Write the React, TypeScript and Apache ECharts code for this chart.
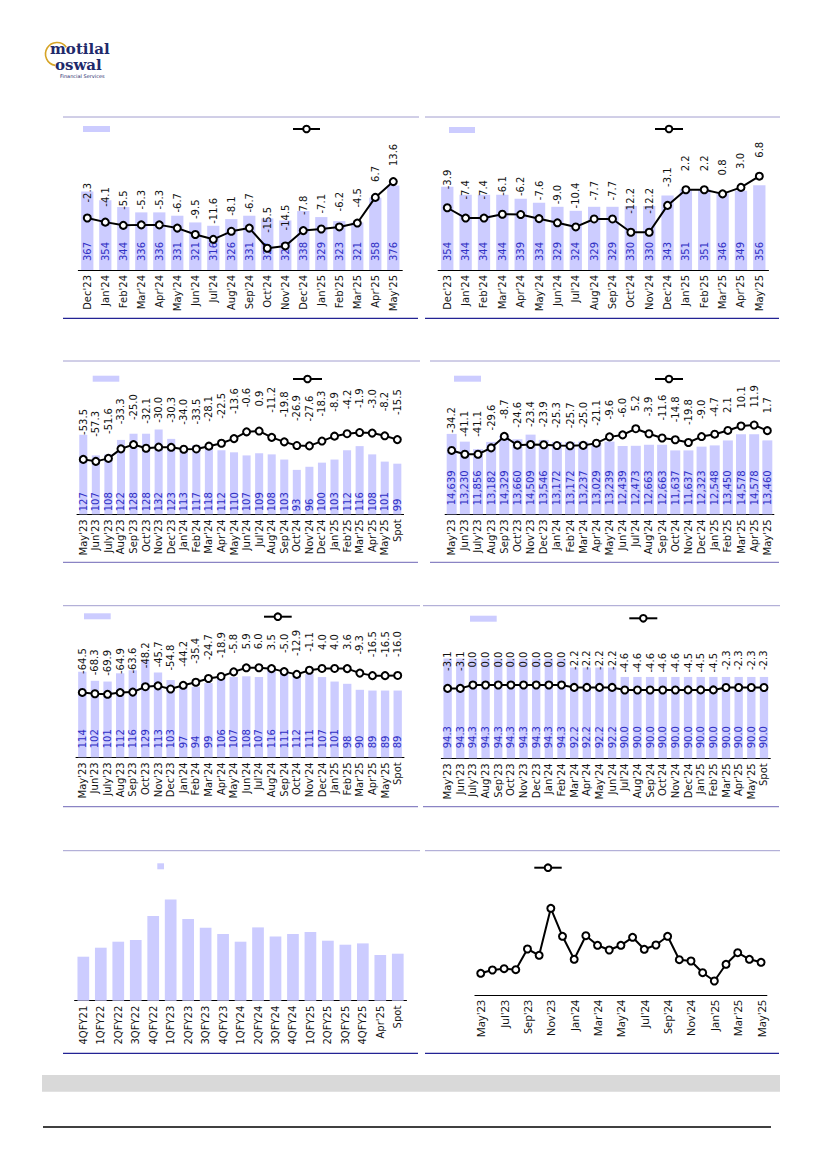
import React, { useEffect, useRef } from "react";
import * as echarts from "echarts";

// ---------- DATA ----------
const monthsDec23 = ["Dec'23", "Jan'24", "Feb'24", "Mar'24", "Apr'24", "May'24", "Jun'24", "Jul'24", "Aug'24", "Sep'24", "Oct'24", "Nov'24", "Dec'24", "Jan'25", "Feb'25", "Mar'25", "Apr'25", "May'25"];
const c1Bar = [367, 354, 344, 336, 336, 331, 321, 316, 326, 331, 327, 324, 338, 329, 323, 321, 358, 376];
const c1Line = [-2.3, -4.1, -5.5, -5.3, -5.3, -6.7, -9.5, -11.6, -8.1, -6.7, -15.5, -14.5, -7.8, -7.1, -6.2, -4.5, 6.7, 13.6];
const c2Bar = [354, 344, 344, 344, 339, 334, 329, 324, 329, 329, 330, 330, 343, 351, 351, 346, 349, 356];
const c2Line = [-3.9, -7.4, -7.4, -6.1, -6.2, -7.6, -9.0, -10.4, -7.7, -7.7, -12.2, -12.2, -3.1, 2.2, 2.2, 0.8, 3.0, 6.8];

const monthsSpot = ["May'23", "Jun'23", "July'23", "Aug'23", "Sep'23", "Oct'23", "Nov'23", "Dec'23", "Jan'24", "Feb'24", "Mar'24", "Apr'24", "May'24", "Jun'24", "Jul'24", "Aug'24", "Sep'24", "Oct'24", "Nov'24", "Dec'24", "Jan'25", "Feb'25", "Mar'25", "Apr'25", "May'25", "Spot"];
const c3Bar = [127, 107, 108, 122, 128, 128, 132, 123, 113, 117, 118, 112, 110, 107, 109, 108, 103, 93, 96, 100, 103, 112, 116, 108, 101, 99];
const c3Line = [-53.5, -57.3, -51.6, -33.3, -25.0, -32.1, -30.0, -30.3, -34.0, -33.5, -28.1, -22.5, -13.6, -0.6, 0.9, -11.2, -19.8, -26.9, -27.6, -18.3, -8.9, -4.2, -1.9, -3.0, -8.2, -15.5];

const monthsMay25 = ["May'23", "Jun'23", "July'23", "Aug'23", "Sep'23", "Oct'23", "Nov'23", "Dec'23", "Jan'24", "Feb'24", "Mar'24", "Apr'24", "May'24", "Jun'24", "Jul'24", "Aug'24", "Sep'24", "Oct'24", "Nov'24", "Dec'24", "Jan'25", "Feb'25", "Mar'25", "Apr'25", "May'25"];
const c4Bar = [14639, 13230, 11856, 13182, 14329, 13660, 14509, 13546, 13172, 13172, 13237, 13029, 13239, 12439, 12473, 12663, 12663, 11637, 11637, 12323, 12548, 13450, 14578, 14578, 13460];
const c4Line = [-34.2, -41.1, -41.1, -29.6, -8.7, -24.6, -23.4, -23.9, -25.3, -25.7, -25.0, -21.1, -9.6, -6.0, 5.2, -3.9, -11.6, -14.8, -19.8, -9.0, -4.7, 2.1, 10.1, 11.9, 1.7];

const c5Bar = [114, 102, 101, 112, 116, 129, 113, 103, 97, 94, 99, 106, 107, 108, 107, 116, 111, 112, 111, 107, 101, 98, 90, 89, 89, 89];
const c5Line = [-64.5, -68.3, -69.9, -64.9, -63.6, -48.2, -45.7, -54.8, -44.2, -35.4, -24.7, -18.9, -5.8, 5.9, 6.0, 3.5, -5.0, -12.9, -1.1, 4.0, 4.0, 3.6, -9.3, -16.5, -16.5, -16.0];

const c6Bar = [94.3, 94.3, 94.3, 94.3, 94.3, 94.3, 94.3, 94.3, 94.3, 94.3, 92.2, 92.2, 92.2, 92.2, 90.0, 90.0, 90.0, 90.0, 90.0, 90.0, 90.0, 90.0, 90.0, 90.0, 90.0, 90.0];
const c6Line = [-3.1, -3.1, 0.0, 0.0, 0.0, 0.0, 0.0, 0.0, 0.0, 0.0, -2.2, -2.2, -2.2, -2.2, -4.6, -4.6, -4.6, -4.6, -4.6, -4.5, -4.5, -4.5, -2.3, -2.3, -2.3, -2.3];

const quarters = ["4QFY21", "1QFY22", "2QFY22", "3QFY22", "4QFY22", "1QFY23", "2QFY23", "3QFY23", "4QFY23", "1QFY24", "2QFY24", "3QFY24", "4QFY24", "1QFY25", "2QFY25", "3QFY25", "4QFY25", "Apr'25", "Spot"];
const c7Bar = [44.0, 53.0, 59.0, 60.7, 84.7, 101.3, 81.7, 73.0, 66.7, 59.0, 73.3, 64.3, 66.7, 68.7, 60.0, 56.0, 57.3, 45.7, 47.0];

const months8 = ["May'23", "Jun'23", "Jul'23", "Aug'23", "Sep'23", "Oct'23", "Nov'23", "Dec'23", "Jan'24", "Feb'24", "Mar'24", "Apr'24", "May'24", "Jun'24", "Jul'24", "Aug'24", "Sep'24", "Oct'24", "Nov'24", "Dec'24", "Jan'25", "Feb'25", "Mar'25", "Apr'25", "May'25"];
const c8Line = [21.7, 25.0, 26.3, 25.3, 46.0, 39.7, 86.7, 58.7, 35.7, 59.3, 49.7, 45.0, 49.7, 57.7, 45.7, 50.0, 58.7, 35.3, 34.0, 22.3, 14.0, 30.7, 42.3, 35.7, 32.7];

// ---------- STYLE ----------
const FONT = "DejaVu Sans";
const BAR_COLOR = "#ccccff";
const BAR_LABEL = "#2f2fc4";
const TOP_LINE = "#a29ecf";
const BOT_DARK = "#232394";
const BOT_LIGHT = "#8a84c4";

type Panel = {
  cats: string[];
  bar?: number[];
  line?: number[];
  grid: { left: number; top: number; width: number; height: number };
  y1?: [number, number];
  y2?: [number, number];
  gap?: string;
  barFmt?: (v: number) => string;
  barDist?: number;
  lineDist?: number;
  barLabels?: boolean;
  lineLabels?: boolean;
  labelInterval?: number;
  axisFont?: string;
  axisFontSize?: number;
};

const fmt0 = (v: number) => String(v);
const fmtComma = (v: number) => v.toLocaleString("en-US");
const fmt1 = (v: number) => v.toFixed(1);

const panels: Panel[] = [
  { cats: monthsDec23, bar: c1Bar, line: c1Line, grid: { left: 78.3, top: 136, width: 324, height: 134 }, y1: [250, 450], y2: [-25, 33.5], gap: "32%", barFmt: fmt0, barDist: 9, lineDist: 11 },
  { cats: monthsDec23, bar: c2Bar, line: c2Line, grid: { left: 438.1, top: 134, width: 330.4, height: 136 }, y1: [250, 420], y2: [-25, 21.1], gap: "33%", barFmt: fmt0, barDist: 9, lineDist: 14 },
  { cats: monthsSpot, bar: c3Bar, line: c3Line, grid: { left: 77, top: 380, width: 326.6, height: 134.3 }, y1: [50, 180], y2: [-159, 99], gap: "36%", barFmt: fmt0, barDist: 3, lineDist: 20 },
  { cats: monthsMay25, bar: c4Bar, line: c4Line, grid: { left: 445.1, top: 377, width: 328.8, height: 137.3 }, y1: [0, 25000], y2: [-150, 99], gap: "24%", barFmt: fmtComma, barDist: 9, lineDist: 13 },
  { cats: monthsSpot, bar: c5Bar, line: c5Line, grid: { left: 76, top: 622.3, width: 328, height: 135 }, y1: [0, 180], y2: [-250, 136], gap: "34%", barFmt: fmt0, barDist: 9, lineDist: 14 },
  { cats: monthsSpot, bar: c6Bar, line: c6Line, grid: { left: 441.3, top: 621.3, width: 329, height: 137 }, y1: [71, 103], y2: [-67.4, 58.6], gap: "34%", barFmt: fmt1, barDist: 10, lineDist: 13 },
  { cats: quarters, bar: c7Bar, grid: { left: 74.6, top: 850.7, width: 331.9, height: 150 }, y1: [0, 150], gap: "33%", barLabels: false },
  { cats: months8, line: c8Line, grid: { left: 474.9, top: 845, width: 292, height: 150 }, y2: [0, 150], lineLabels: false, labelInterval: 1, axisFont: "Noto Sans", axisFontSize: 11 },
];

function buildOption() {
  const grid: any[] = [];
  const xAxis: any[] = [];
  const yAxis: any[] = [];
  const series: any[] = [];

  panels.forEach((p, i) => {
    grid.push({ ...p.grid, containLabel: false });
    xAxis.push({
      type: "category",
      gridIndex: i,
      data: p.cats,
      boundaryGap: true,
      axisLine: { show: true, onZero: false, lineStyle: { color: "#000", width: 1 } },
      axisTick: { show: false },
      splitLine: { show: false },
      axisLabel: {
        rotate: 90,
        interval: p.labelInterval ?? 0,
        margin: 5,
        color: "#111",
        fontSize: p.axisFontSize ?? 10,
        fontFamily: p.axisFont ?? FONT,
      },
    });
    if (p.bar) {
      const yi = yAxis.length;
      yAxis.push({ type: "value", gridIndex: i, min: p.y1![0], max: p.y1![1], show: false, axisLine: { show: false }, splitLine: { show: false } });
      series.push({
        type: "bar",
        xAxisIndex: i,
        yAxisIndex: yi,
        data: p.bar,
        barCategoryGap: p.gap,
        itemStyle: { color: BAR_COLOR },
        z: 2,
        label: {
          show: p.barLabels !== false,
          position: "insideBottom",
          distance: p.barDist ?? 9,
          rotate: 90,
          align: "left",
          verticalAlign: "middle",
          color: BAR_LABEL,
          fontSize: 10,
          fontFamily: FONT,
          formatter: (o: any) => (p.barFmt ? p.barFmt(o.value) : String(o.value)),
        },
      });
    }
    if (p.line) {
      const yi = yAxis.length;
      yAxis.push({ type: "value", gridIndex: i, min: p.y2![0], max: p.y2![1], show: false, axisLine: { show: false }, splitLine: { show: false } });
      series.push({
        type: "line",
        xAxisIndex: i,
        yAxisIndex: yi,
        data: p.line,
        symbol: "circle",
        symbolSize: 7,
        showAllSymbol: true,
        itemStyle: { color: "#fff", borderColor: "#000", borderWidth: 2 },
        lineStyle: { color: "#000", width: 2 },
        z: 5,
        label: {
          show: p.lineLabels !== false,
          position: "top",
          distance: p.lineDist ?? 12,
          rotate: 90,
          align: "left",
          verticalAlign: "middle",
          color: "#111",
          fontSize: 10,
          fontFamily: FONT,
          formatter: (o: any) => fmt1(o.value),
        },
      });
    }
  });

  const hline = (x1: number, x2: number, y: number, stroke: string, w = 1) => ({
    type: "line",
    shape: { x1, y1: y, x2, y2: y },
    style: { stroke, lineWidth: w },
    silent: true,
  });
  const barLegend = (x: number, y: number, w: number, h: number) => ({
    type: "rect",
    shape: { x, y, width: w, height: h },
    style: { fill: BAR_COLOR },
    silent: true,
  });
  const lineLegend = (x1: number, x2: number, y: number) => [
    { type: "line", shape: { x1, y1: y, x2, y2: y }, style: { stroke: "#000", lineWidth: 2 }, silent: true },
    { type: "circle", shape: { cx: (x1 + x2) / 2, cy: y, r: 3.3 }, style: { fill: "#fff", stroke: "#000", lineWidth: 2 }, silent: true, z: 10 },
  ];

  const elements: any[] = [
    // panel top rules
    hline(63, 419, 117, TOP_LINE),
    hline(425, 780, 117, TOP_LINE),
    hline(63, 420, 361, TOP_LINE),
    hline(430, 780, 361, TOP_LINE),
    hline(63, 420, 605.7, TOP_LINE),
    hline(423, 780, 605.7, TOP_LINE),
    hline(63, 420, 850.7, TOP_LINE),
    hline(425, 780, 850.7, TOP_LINE),
    // panel bottom rules
    hline(63, 418, 318.3, BOT_DARK, 1.3),
    hline(425, 779, 318.3, BOT_DARK, 1.3),
    hline(63, 418, 562.3, BOT_LIGHT, 1.3),
    hline(430, 779, 562.3, BOT_LIGHT, 1.3),
    hline(63, 418, 806.7, BOT_LIGHT, 1.3),
    hline(423, 779, 806.7, BOT_LIGHT, 1.3),
    hline(63, 418, 1053.3, BOT_DARK, 1.3),
    hline(425, 779, 1053.3, BOT_DARK, 1.3),
    // legends
    barLegend(83, 126, 27, 6),
    ...lineLegend(293, 320, 129),
    barLegend(449, 127, 26, 6),
    ...lineLegend(655, 683, 129),
    barLegend(92.7, 375.7, 26.6, 6),
    ...lineLegend(293, 322, 379),
    barLegend(454, 375.7, 27, 6),
    ...lineLegend(655, 683, 379),
    barLegend(84, 613.3, 26.7, 6),
    ...lineLegend(264, 291.7, 616.7),
    barLegend(470, 615.7, 26.7, 6),
    ...lineLegend(629.3, 657.3, 618.3),
    barLegend(157.3, 863.3, 6.7, 6),
    ...lineLegend(534.3, 561.7, 867.7),
    // footer band and rule
    { type: "rect", shape: { x: 42, y: 1075, width: 738, height: 16.7 }, style: { fill: "#d9d9d9" }, silent: true },
    hline(43, 771, 1127, "#000", 1.5),
    // logo
    {
      type: "arc",
      shape: { cx: 57, cy: 54, r: 11.5, startAngle: Math.PI * 0.55, endAngle: Math.PI * 1.8, clockwise: true },
      style: { stroke: "#d6a426", lineWidth: 1.6, fill: "none" },
      silent: true,
    },
    {
      type: "text",
      x: 50,
      y: 41,
      style: { text: "motilal", fill: "#1f2a6b", font: 'bold 15px "DejaVu Serif"', textVerticalAlign: "top" },
      silent: true,
    },
    {
      type: "text",
      x: 55,
      y: 57,
      style: { text: "oswal", fill: "#1f2a6b", font: 'bold 15px "DejaVu Serif"', textVerticalAlign: "top" },
      silent: true,
    },
    {
      type: "text",
      x: 60,
      y: 73,
      style: { text: "Financial Services", fill: "#1f2a6b", font: '5px "DejaVu Sans"', textVerticalAlign: "top" },
      silent: true,
    },
  ];

  return {
    animation: false,
    backgroundColor: "#fff",
    grid,
    xAxis,
    yAxis,
    series,
    graphic: { elements },
  };
}

export default function App() {
  const ref = useRef<HTMLDivElement>(null);
  useEffect(() => {
    if (!ref.current) return;
    const chart = echarts.init(ref.current, null, { renderer: "svg", width: 827, height: 1169 });
    chart.setOption(buildOption() as any);
    return () => chart.dispose();
  }, []);
  return <div ref={ref} style={{ position: "absolute", left: 0, top: 0, width: 827, height: 1169 }} />;
}
